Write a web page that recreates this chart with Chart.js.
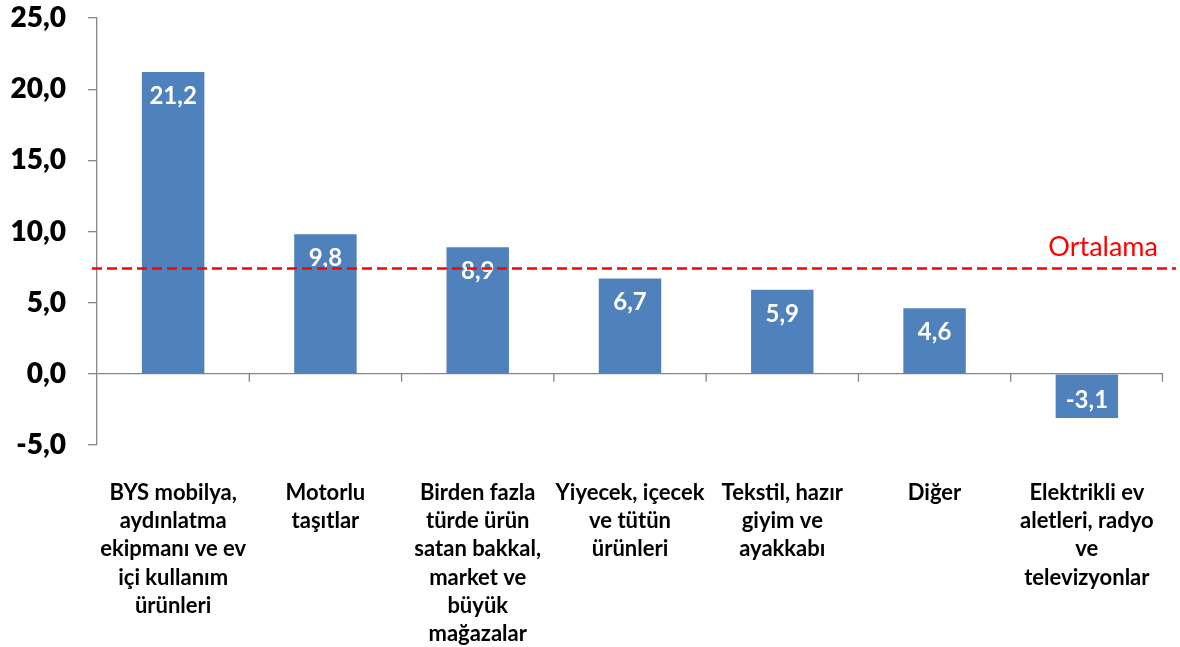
<!DOCTYPE html>
<html>
<head>
<meta charset="utf-8">
<script src="https://cdn.jsdelivr.net/npm/chart.js@4/dist/chart.umd.min.js"></script>
<style>
html,body{margin:0;padding:0;background:#fff;}
canvas{display:block;}
</style>
</head>
<body>
<canvas id="c" width="1180" height="647"></canvas>
<script>
const categories = [
  ["BYS mobilya,", "aydınlatma", "ekipmanı ve ev", "içi kullanım", "ürünleri"],
  ["Motorlu", "taşıtlar"],
  ["Birden fazla", "türde ürün", "satan bakkal,", "market ve", "büyük", "mağazalar"],
  ["Yiyecek, içecek", "ve tütün", "ürünleri"],
  ["Tekstil, hazır", "giyim ve", "ayakkabı"],
  ["Diğer"],
  ["Elektrikli ev", "aletleri, radyo", "ve", "televizyonlar"]
];
const values = [21.2, 9.8, 8.9, 6.7, 5.9, 4.6, -3.1];
const yMin = -5;
const yMax = 25;
const yStep = 5;
const averageValue = 7.4;
const averageLabel = "Ortalama";

const FONT = "Lato, 'Open Sans', sans-serif";
const fmt = v => v.toFixed(1).replace('.', ',');

const overlayPlugin = {
  id: 'overlay',
  afterDatasetsDraw(chart) {
    const ctx = chart.ctx;
    const xs = chart.scales.x, ys = chart.scales.y;
    const area = chart.chartArea;
    const zeroY = ys.getPixelForValue(0);
    ctx.save();
    ctx.strokeStyle = '#868686';
    ctx.lineWidth = 1.3;
    for (let i = 1; i <= categories.length; i++) {
      let x;
      if (i < categories.length) {
        x = (xs.getPixelForValue(i - 1) + xs.getPixelForValue(i)) / 2;
      } else {
        x = area.right - 0.5;
      }
      ctx.beginPath();
      ctx.moveTo(x, zeroY);
      ctx.lineTo(x, zeroY + 8);
      ctx.stroke();
    }
    const meta = chart.getDatasetMeta(0);
    ctx.fillStyle = '#ffffff';
    ctx.font = "bold 24px " + FONT;
    ctx.textAlign = 'center';
    ctx.textBaseline = 'middle';
    meta.data.forEach((bar, i) => {
      const v = values[i];
      const y = v >= 0 ? bar.y + 24 : bar.y - 18;
      ctx.fillText(fmt(v), bar.x, y);
    });
    const ay = ys.getPixelForValue(averageValue);
    ctx.strokeStyle = '#ff0000';
    ctx.lineWidth = 2.6;
    ctx.setLineDash([10, 5]);
    ctx.beginPath();
    ctx.moveTo(area.left - 5, ay);
    ctx.lineTo(area.right + 13, ay);
    ctx.stroke();
    ctx.setLineDash([]);
    ctx.fillStyle = '#ff0000';
    ctx.font = "27px " + FONT;
    ctx.textAlign = 'right';
    ctx.textBaseline = 'alphabetic';
    ctx.fillText(averageLabel, area.right - 5, ay - 13);
    ctx.restore();
  }
};

new Chart(document.getElementById('c'), {
  type: 'bar',
  data: {
    labels: categories,
    datasets: [{
      data: values,
      backgroundColor: '#4F81BD',
      borderWidth: 0,
      categoryPercentage: 1,
      barPercentage: 0.41
    }]
  },
  options: {
    responsive: false,
    animation: false,
    layout: { padding: { top: 18, right: 17, left: 0, bottom: 0 } },
    plugins: { legend: { display: false }, tooltip: { enabled: false } },
    scales: {
      x: {
        grid: { display: false },
        border: { display: false },
        ticks: {
          color: '#000',
          font: { family: FONT, size: 22, weight: 'bold', lineHeight: 1.28 },
          padding: 26,
          maxRotation: 0,
          autoSkip: false
        },
        afterFit(s) { s.height = 202; s.paddingLeft = 0; s.paddingRight = 0; }
      },
      y: {
        min: yMin,
        max: yMax,
        ticks: {
          stepSize: yStep,
          color: '#000',
          font: { family: FONT, size: 28, weight: 800, lineHeight: 1.2 },
          padding: 22,
          callback: v => fmt(v)
        },
        grid: {
          drawOnChartArea: true,
          color: c => (c.tick && c.tick.value === 0) ? '#868686' : 'rgba(0,0,0,0)',
          lineWidth: 1.3,
          tickColor: '#868686',
          tickLength: 9
        },
        border: { display: true, color: '#868686', width: 1.3 },
        afterFit(s) { s.width = 97; s.paddingTop = 0; s.paddingBottom = 0; }
      }
    }
  },
  plugins: [overlayPlugin]
});
</script>
</body>
</html>
